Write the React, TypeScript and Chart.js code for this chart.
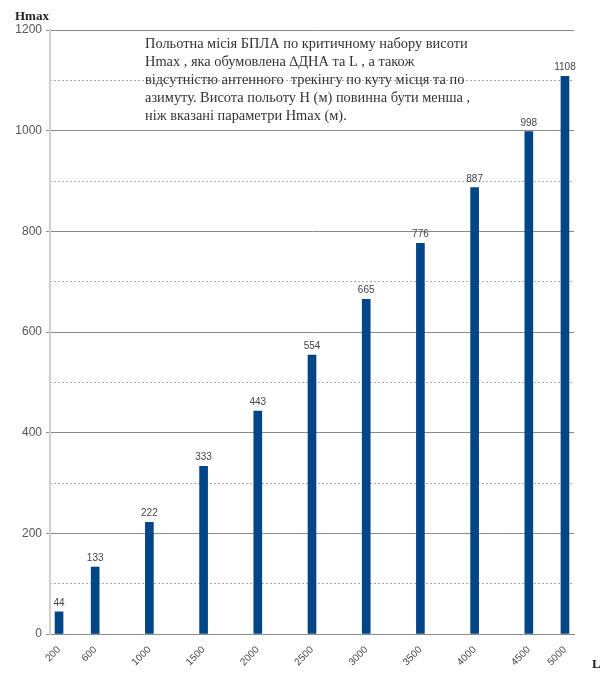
import React, { useEffect, useRef } from "react";
import { Chart, registerables } from "chart.js";

Chart.register(...registerables);

// ---- data ----
const categories = ["200", "600", "1000", "1500", "2000", "2500", "3000", "3500", "4000", "4500", "5000"];
const hmaxValues = [44, 133, 222, 333, 443, 554, 665, 776, 887, 998, 1108];
const yTicksMajor = [0, 200, 400, 600, 800, 1000, 1200];
const yAxisTitle = "Hmax";
const xAxisTitle = "L";
const noteLines = [
  "Польотна місія БПЛА по критичному набору висоти",
  "Hmax , яка обумовлена ∆ДНА та L , а також",
  "відсутністю антенного  трекінгу по куту місця та по",
  "азимуту. Висота польоту H (м) повинна бути менша ,",
  "ніж вказані параметри Hmax (м).",
];

// ---- layout (category slot each bar occupies on the axis) ----
const slotIndex = [0, 2, 5, 8, 11, 14, 17, 20, 23, 26, 28];
const slotCount = 29;

const labels: string[] = Array.from({ length: slotCount }, () => "");
const values: (number | null)[] = Array.from({ length: slotCount }, () => null);
slotIndex.forEach((s, i) => {
  labels[s] = categories[i];
  values[s] = hmaxValues[i];
});

const BAR_COLOR = "#004586";
const SANS = "'Liberation Sans', Arial, sans-serif";
const SERIF = "'Liberation Serif', 'Times New Roman', serif";

const overlayPlugin = {
  id: "overlay",
  afterDatasetsDraw(chart: any) {
    const ctx = chart.ctx;
    const meta = chart.getDatasetMeta(0);
    ctx.save();
    ctx.font = `10px ${SANS}`;
    ctx.fillStyle = "#444";
    ctx.textAlign = "center";
    ctx.textBaseline = "alphabetic";
    meta.data.forEach((el: any, i: number) => {
      const v = values[i];
      if (v == null) return;
      ctx.fillText(String(v), el.x, el.y - 6);
    });
    ctx.restore();
  },
  afterDraw(chart: any) {
    const ctx = chart.ctx;
    ctx.save();
    ctx.fillStyle = "#222";
    ctx.font = `bold 13px ${SERIF}`;
    ctx.textAlign = "left";
    ctx.textBaseline = "alphabetic";
    ctx.fillText(yAxisTitle, 15, 20);
    ctx.fillText(xAxisTitle, 592, 668);

    ctx.font = `14.4px ${SERIF}`;
    ctx.fillStyle = "#333";
    ctx.textBaseline = "middle";
    noteLines.forEach((line, i) => {
      ctx.fillText(line, 145, 44 + i * 18);
    });
    ctx.restore();
  },
};

export default function App() {
  const ref = useRef<HTMLCanvasElement | null>(null);

  useEffect(() => {
    if (!ref.current) return;
    const chart = new Chart(ref.current, {
      type: "bar",
      data: {
        labels,
        datasets: [
          {
            data: values,
            backgroundColor: BAR_COLOR,
            barThickness: 8,
            skipNull: true,
          } as any,
        ],
      },
      options: {
        animation: false,
        responsive: false,
        layout: { padding: { top: 30, right: 32, bottom: 0, left: 0 } },
        plugins: { legend: { display: false }, tooltip: { enabled: false } },
        scales: {
          x: {
            type: "category",
            offset: true,
            grid: { display: false },
            border: { display: true, color: "#8a8a8a", width: 1 },
            ticks: {
              autoSkip: false,
              minRotation: 45,
              maxRotation: 45,
              padding: 2,
              color: "#444",
              font: { size: 10, family: SANS },
              callback: (_v: any, i: number) => labels[i],
            },
            afterFit: (s: any) => {
              s.height = 39;
            },
          },
          y: {
            min: 0,
            max: 1200,
            afterBuildTicks: (s: any) => {
              s.ticks = yTicksMajor.map((v) => ({ value: v }));
            },
            grid: { color: "#8a8a8a", lineWidth: 1, tickLength: 4, tickColor: "#8a8a8a" },
            border: { display: true, color: "#d0d0d0", width: 2 },
            ticks: {
              padding: 4,
              color: "#555",
              font: { size: 12, family: SANS },
              callback: (v: any) => String(v),
            },
            afterFit: (s: any) => {
              s.width = 50;
            },
          },
          y2: {
            position: "left",
            min: 0,
            max: 1200,
            ticks: { display: false, stepSize: 100 },
            grid: {
              drawTicks: false,
              color: (c: any) => (c.tick && c.tick.value % 200 === 0 ? "rgba(0,0,0,0)" : "#a8a8a8"),
              lineWidth: 1,
            },
            border: { display: false, dash: [2, 2] },
            afterFit: (s: any) => {
              s.width = 0;
            },
          },
        },
      } as any,
      plugins: [overlayPlugin],
    });
    return () => chart.destroy();
  }, []);

  return (
    <div style={{ position: "fixed", left: 0, top: 0, width: 606, height: 673, background: "#fff" }}>
      <canvas ref={ref} width={606} height={673} style={{ display: "block" }} />
    </div>
  );
}
